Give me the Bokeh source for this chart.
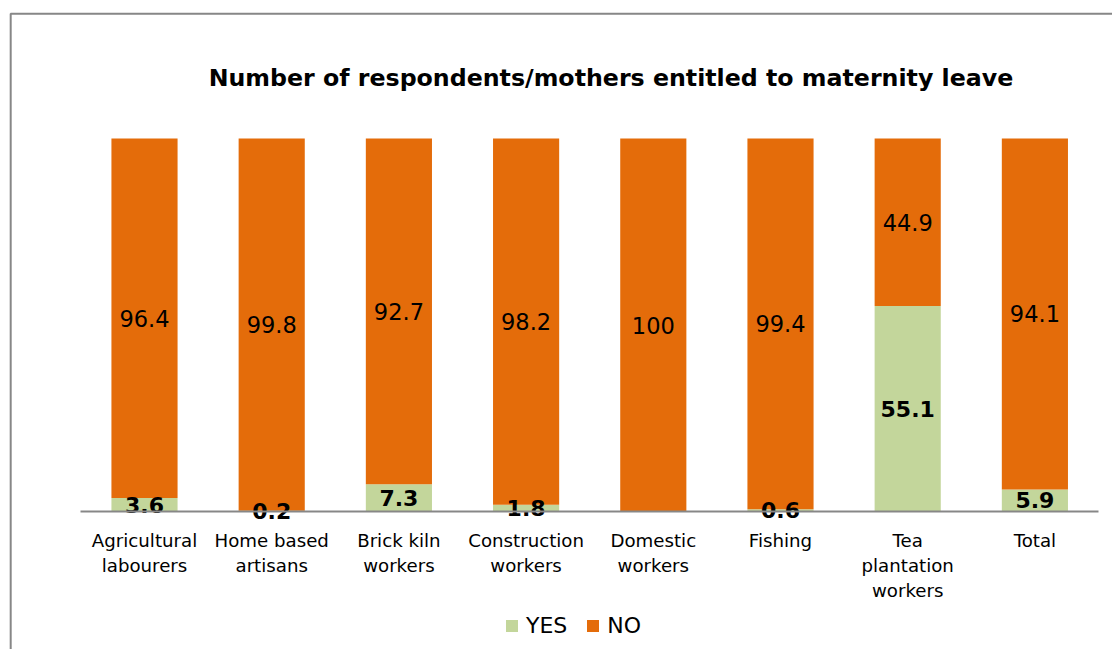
from bokeh.plotting import figure
from bokeh.models import Range1d, FixedTicker, BoxAnnotation, Label, ColumnDataSource
from bokeh.embed import file_html
from bokeh.resources import INLINE
from bokeh.core.properties import value

# ---- data ----
categories = ["Agricultural\nlabourers", "Home based\nartisans", "Brick kiln\nworkers",
              "Construction\nworkers", "Domestic\nworkers", "Fishing",
              "Tea\nplantation\nworkers", "Total"]
yes = [3.6, 0.2, 7.3, 1.8, 0.0, 0.6, 55.1, 5.9]
no = [96.4, 99.8, 92.7, 98.2, 100.0, 99.4, 44.9, 94.1]
yes_labels = ["3.6", "0.2", "7.3", "1.8", "", "0.6", "55.1", "5.9"]
no_labels = ["96.4", "99.8", "92.7", "98.2", "100", "99.4", "44.9", "94.1"]
series = ["YES", "NO"]
title_text = "Number of respondents/mothers entitled to maternity leave"

GREEN = "#C3D69B"
ORANGE = "#E46C0A"
GRAY = "#878787"
FONT = "DejaVu Sans"

xs = list(range(1, len(categories) + 1))
src = ColumnDataSource(dict(
    x=xs, yes=yes, no=no,
    yes_mid=[y / 2 for y in yes],
    no_mid=[y + n / 2 for y, n in zip(yes, no)],
    yes_lab=yes_labels, no_lab=no_labels,
))

p = figure(width=1112, height=649, output_backend="svg", toolbar_location=None,
           x_range=Range1d(-0.1321, 8.6101), y_range=Range1d(-37.0, 137.0),
           y_axis_location=None, min_border=0, min_border_left=0, min_border_right=0,
           min_border_top=0, min_border_bottom=0)
p.outline_line_color = None
p.xgrid.visible = False
p.ygrid.visible = False
p.background_fill_color = "white"
p.border_fill_color = "white"

# chart border (only left & top edges fall inside the view)
p.add_layout(BoxAnnotation(left=-0.052, top=133.46, right=9.5, bottom=-60,
                           fill_alpha=0, line_color=GRAY, line_alpha=1.0,
                           line_width=2, level="underlay"))

p.vbar_stack(["yes", "no"], x="x", width=0.52, color=[GREEN, ORANGE], source=src,
             line_color=None, legend_label=series)

# axis at y = 0 inside the frame
ax = p.xaxis[0]
ax.fixed_location = 0
ax.bounds = (0.5, 8.5)
ax.ticker = FixedTicker(ticks=xs)
ax.major_label_overrides = {x: c for x, c in zip(xs, categories)}
ax.axis_line_color = GRAY
ax.axis_line_width = 2
ax.major_tick_line_color = None
ax.minor_tick_line_color = None
ax.major_tick_out = 0
ax.major_label_standoff = 19
ax.major_label_text_font = FONT
ax.major_label_text_font_size = "18.2px"
ax.major_label_text_color = "black"
ax.major_label_text_line_height = 1.18

# data labels
p.text(x="x", y="no_mid", text="no_lab", source=src, text_align="center",
       text_baseline="middle", text_font=value(FONT), text_font_size="22.5px",
       text_color="black")
p.text(x="x", y="yes_mid", text="yes_lab", source=src, text_align="center",
       text_baseline="middle", text_font=value(FONT), text_font_size="22px",
       text_font_style="bold", text_color="black")

# title
p.add_layout(Label(x=4.667, y=116.3, text=title_text, text_align="center",
                   text_baseline="middle", text_font=FONT, text_font_size="23.7px",
                   text_font_style="bold", text_color="black"))

# legend
lg = p.legend[0]
lg.orientation = "horizontal"
lg.location = (504, 11.5)
lg.padding = 0
lg.margin = 0
lg.spacing = 18
lg.border_line_color = None
lg.background_fill_alpha = 0
lg.glyph_width = 15
lg.glyph_height = 15
lg.label_standoff = 7
lg.label_text_font = FONT
lg.label_text_font_size = "22px"
lg.label_text_color = "black"

open("out.html", "w").write(file_html(p, INLINE))
